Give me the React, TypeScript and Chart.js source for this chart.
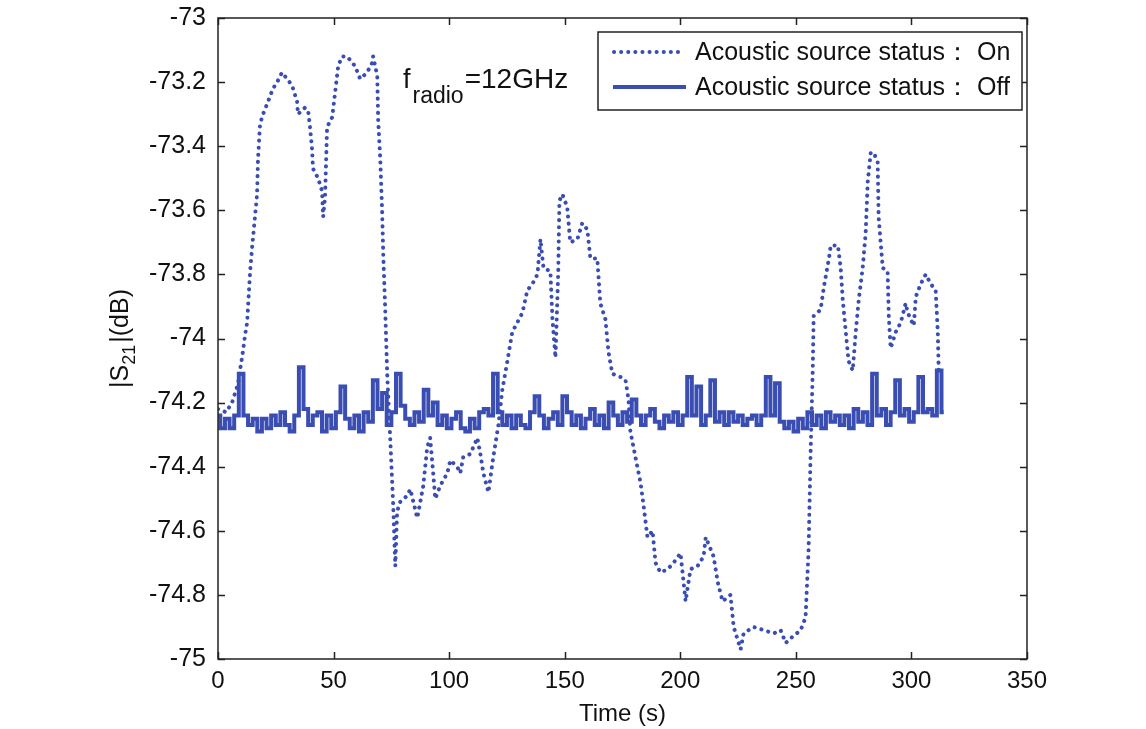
import React, { useEffect, useRef } from "react";
import { Chart, registerables } from "chart.js";
Chart.register(...registerables);

// Acoustic source ON (dotted) — time (s) and |S21| (dB)
const onTime = [
  0, 3.5, 6.1, 8.7, 9.5, 10.4, 11.7, 12.6, 13.0, 13.9, 14.7, 16.0, 16.9, 17.3, 18.2, 19.5, 21.7, 23.8, 25.6, 27.7,
  29.9, 32.0, 34.2, 34.6, 37.6, 39.0, 39.8, 40.7, 41.1, 43.3, 45.0, 45.5, 46.3, 47.2, 49.4, 50.7, 52.0, 53.7, 55.9, 59.3,
  61.5, 64.5, 66.7, 67.1, 68.9, 69.3, 70.2, 71.0, 71.5, 72.3, 73.2, 74.5, 75.8, 76.7, 77.5, 78.8, 81.9, 83.2, 86.2, 87.5,
  88.8, 90.5, 91.8, 93.1, 94.0, 96.1, 99.2, 100.5, 103.5, 104.8, 106.1, 109.2, 112.2, 113.5, 114.8, 117.0, 119.1, 121.3, 123.0, 125.2,
  127.3, 129.5, 131.7, 133.8, 136.0, 138.2, 139.5, 140.8, 143.8, 144.7, 146.0, 147.2, 147.7, 149.0, 151.1, 152.4, 155.5, 157.6, 159.8, 161.1,
  164.1, 165.4, 167.6, 168.9, 170.6, 174.1, 176.3, 177.6, 178.4, 180.6, 182.8, 184.1, 185.8, 188.0, 189.3, 191.4, 194.5, 197.1, 200.1, 202.3,
  204.4, 207.5, 210.1, 211.0, 214.4, 216.2, 218.3, 221.7, 223.1, 226.1, 227.4, 231.7, 236.1, 240.4, 243.4, 245.6, 248.6, 252.1, 254.2, 255.5,
  256.4, 257.3, 257.7, 260.7, 262.1, 264.3, 265.1, 268.2, 269.4, 270.3, 271.6, 272.8, 274.6, 275.9, 277.2, 278.9, 280.2, 281.1, 282.4, 283.7,
  285.4, 285.8, 287.6, 289.7, 290.2, 291.0, 293.2, 295.4, 297.5, 298.4, 301.0, 301.9, 304.0, 306.2, 308.4, 310.5, 311.4, 311.8,
];
const onValue = [
  -74.22, -74.23, -74.2, -74.14, -74.1, -74.06, -73.99, -73.95, -73.9, -73.79, -73.72, -73.62, -73.55, -73.44, -73.33, -73.3, -73.26, -73.22, -73.2, -73.17,
  -73.19, -73.21, -73.26, -73.3, -73.28, -73.29, -73.34, -73.41, -73.47, -73.5, -73.54, -73.62, -73.56, -73.34, -73.31, -73.23, -73.15, -73.12, -73.12, -73.15,
  -73.19, -73.17, -73.14, -73.12, -73.18, -73.32, -73.44, -73.6, -73.74, -73.9, -74.11, -74.31, -74.52, -74.71, -74.54, -74.51, -74.49, -74.47, -74.56, -74.51,
  -74.46, -74.34, -74.31, -74.42, -74.5, -74.46, -74.42, -74.38, -74.4, -74.42, -74.37, -74.36, -74.31, -74.36, -74.42, -74.48, -74.37, -74.27, -74.16, -74.07,
  -73.98, -73.95, -73.92, -73.85, -73.83, -73.8, -73.69, -73.78, -73.79, -73.94, -74.06, -73.79, -73.57, -73.55, -73.59, -73.7, -73.69, -73.64, -73.66, -73.75,
  -73.75, -73.89, -73.94, -74.04, -74.11, -74.12, -74.13, -74.19, -74.29, -74.37, -74.45, -74.52, -74.62, -74.6, -74.7, -74.73, -74.72, -74.7, -74.67, -74.82,
  -74.72, -74.71, -74.68, -74.62, -74.68, -74.76, -74.82, -74.8, -74.9, -74.97, -74.92, -74.9, -74.91, -74.92, -74.91, -74.95, -74.93, -74.91, -74.87, -74.66,
  -74.35, -74.1, -73.93, -73.91, -73.84, -73.75, -73.71, -73.71, -73.78, -73.88, -73.98, -74.07, -74.1, -73.98, -73.88, -73.78, -73.67, -73.51, -73.42, -73.42,
  -73.45, -73.62, -73.78, -73.79, -73.93, -74.03, -73.98, -73.95, -73.89, -73.92, -73.96, -73.87, -73.83, -73.8, -73.83, -73.85, -73.98, -74.1,
];

// Acoustic source OFF (solid) — sampled every 2 s from 0 s
const OFF_STEP = 2;
const offValue = [
  -74.24, -74.28, -74.25, -74.28, -74.24, -74.11, -74.24, -74.27, -74.25, -74.29,
  -74.25, -74.28, -74.24, -74.27, -74.23, -74.27, -74.29, -74.24, -74.09, -74.22,
  -74.27, -74.24, -74.23, -74.29, -74.24, -74.28, -74.23, -74.15, -74.25, -74.28,
  -74.24, -74.29, -74.23, -74.26, -74.13, -74.22, -74.17, -74.27, -74.23, -74.11,
  -74.21, -74.25, -74.27, -74.23, -74.26, -74.16, -74.24, -74.2, -74.27, -74.24,
  -74.28, -74.25, -74.23, -74.28, -74.29, -74.25, -74.28, -74.23, -74.22, -74.24,
  -74.11, -74.23, -74.27, -74.24, -74.28, -74.24, -74.27, -74.28, -74.23, -74.18,
  -74.24, -74.28, -74.25, -74.23, -74.27, -74.18, -74.23, -74.27, -74.24, -74.28,
  -74.25, -74.22, -74.27, -74.24, -74.28, -74.2, -74.24, -74.27, -74.23, -74.26,
  -74.19, -74.24, -74.27, -74.24, -74.22, -74.26, -74.28, -74.24, -74.26, -74.23,
  -74.27, -74.24, -74.12, -74.24, -74.15, -74.27, -74.24, -74.13, -74.26, -74.23,
  -74.27, -74.23, -74.26, -74.24, -74.27, -74.25, -74.24, -74.27, -74.24, -74.12,
  -74.24, -74.14, -74.26, -74.28, -74.26, -74.29, -74.25, -74.28, -74.23, -74.27,
  -74.24, -74.28, -74.23, -74.26, -74.24, -74.27, -74.24, -74.28, -74.22, -74.26,
  -74.23, -74.27, -74.11, -74.24, -74.22, -74.27, -74.23, -74.13, -74.24, -74.22,
  -74.26, -74.23, -74.12, -74.23, -74.22, -74.24, -74.1, -74.23,
];

const xTicks = [0, 50, 100, 150, 200, 250, 300, 350];
const yTicks = [-75, -74.8, -74.6, -74.4, -74.2, -74, -73.8, -73.6, -73.4, -73.2, -73];

const legendLabels = ["Acoustic source status\uFF1A On", "Acoustic source status\uFF1A Off"];
const BLUE = "#3a4db3";
const FONT = '"Liberation Sans", Arial, sans-serif';

const decorPlugin = {
  id: "decor",
  afterDraw(chart: any) {
    const { ctx, chartArea: a, scales } = chart;
    const xs = scales.x, ys = scales.y;
    ctx.save();
    // frame
    ctx.strokeStyle = "#222";
    ctx.lineWidth = 1.5;
    ctx.strokeRect(a.left, a.top, a.right - a.left, a.bottom - a.top);
    // inward ticks
    const tl = 7;
    ctx.beginPath();
    xTicks.forEach((v) => {
      const px = Math.round(xs.getPixelForValue(v)) + 0.5;
      ctx.moveTo(px, a.bottom); ctx.lineTo(px, a.bottom - tl);
      ctx.moveTo(px, a.top); ctx.lineTo(px, a.top + tl);
    });
    yTicks.forEach((v) => {
      const py = Math.round(ys.getPixelForValue(v)) + 0.5;
      ctx.moveTo(a.left, py); ctx.lineTo(a.left + tl, py);
      ctx.moveTo(a.right, py); ctx.lineTo(a.right - tl, py);
    });
    ctx.stroke();

    // annotation f_radio = 12GHz
    ctx.fillStyle = "#111";
    ctx.textBaseline = "alphabetic";
    ctx.textAlign = "left";
    ctx.font = `27px ${FONT}`;
    let x = 403;
    ctx.fillText("f", x, 88);
    x += ctx.measureText("f").width + 2;
    ctx.font = `23px ${FONT}`;
    ctx.fillText("radio", x, 103);
    x += ctx.measureText("radio").width + 1;
    ctx.font = `28px ${FONT}`;
    ctx.fillText("=12GHz", x, 88);

    // legend box
    ctx.fillStyle = "#fff";
    ctx.fillRect(598, 32, 424, 78);
    ctx.strokeStyle = "#222";
    ctx.lineWidth = 1.5;
    ctx.strokeRect(598, 32, 424, 78);
    ctx.strokeStyle = BLUE;
    ctx.lineWidth = 4;
    ctx.lineCap = "round";
    ctx.setLineDash([0.1, 7]);
    ctx.beginPath(); ctx.moveTo(614, 52); ctx.lineTo(685, 52); ctx.stroke();
    ctx.setLineDash([]);
    ctx.lineCap = "butt";
    ctx.beginPath(); ctx.moveTo(613, 87); ctx.lineTo(686, 87); ctx.stroke();
    ctx.fillStyle = "#111";
    ctx.font = `25px ${FONT}`;
    ctx.textBaseline = "middle";
    ctx.fillText(legendLabels[0], 695, 53);
    ctx.fillText(legendLabels[1], 695, 88);

    // y-axis title |S21|(dB)
    ctx.save();
    ctx.translate(128, (a.top + a.bottom) / 2);
    ctx.rotate(-Math.PI / 2);
    ctx.textBaseline = "alphabetic";
    const main = `25px ${FONT}`, sub = `18px ${FONT}`;
    ctx.font = main; const w1 = ctx.measureText("|S").width;
    ctx.font = sub; const w2 = ctx.measureText("21").width;
    ctx.font = main; const w3 = ctx.measureText("|(dB)").width;
    let tx = -(w1 + w2 + w3 + 2) / 2;
    ctx.font = main; ctx.fillText("|S", tx, 0); tx += w1;
    ctx.font = sub; ctx.fillText("21", tx, 7); tx += w2 + 2;
    ctx.font = main; ctx.fillText("|(dB)", tx, 0);
    ctx.restore();

    // x-axis title
    ctx.font = `24px ${FONT}`;
    ctx.textAlign = "center";
    ctx.textBaseline = "alphabetic";
    ctx.fillText("Time (s)", (a.left + a.right) / 2, 721);
    ctx.restore();
  },
};

export default function App() {
  const ref = useRef<HTMLCanvasElement>(null);
  useEffect(() => {
    const canvas = ref.current!;
    const chart = new Chart(canvas, {
      type: "scatter",
      data: {
        datasets: [
          {
            label: legendLabels[0],
            data: onTime.map((t, i) => ({ x: t, y: onValue[i] })),
            showLine: true,
            borderColor: BLUE,
            backgroundColor: BLUE,
            borderWidth: 4,
            borderDash: [0.1, 7],
            borderCapStyle: "round",
            borderJoinStyle: "round",
            pointRadius: 0,
            tension: 0,
          },
          {
            label: legendLabels[1],
            data: offValue.map((v, i) => ({ x: i * OFF_STEP, y: v })),
            showLine: true,
            stepped: "middle",
            borderColor: BLUE,
            backgroundColor: BLUE,
            borderWidth: 4,
            pointRadius: 0,
          },
        ],
      } as any,
      options: {
        animation: false,
        responsive: false,
        layout: { padding: { top: 18, right: 119, left: 0, bottom: 0 } },
        plugins: { legend: { display: false }, tooltip: { enabled: false } },
        scales: {
          x: {
            type: "linear",
            min: 0,
            max: 350,
            afterBuildTicks: (s: any) => { s.ticks = xTicks.map((v) => ({ value: v })); },
            afterFit: (s: any) => { s.height = 70; s.paddingLeft = 0; s.paddingRight = 0; },
            grid: { display: false, drawTicks: false },
            border: { display: false },
            ticks: { color: "#111", padding: 8, maxRotation: 0, font: { family: FONT, size: 24 } },
          },
          y: {
            type: "linear",
            min: -75,
            max: -73,
            afterBuildTicks: (s: any) => { s.ticks = yTicks.map((v) => ({ value: v })); },
            afterFit: (s: any) => { s.width = 218; s.paddingTop = 0; s.paddingBottom = 0; },
            grid: { display: false, drawTicks: false },
            border: { display: false },
            ticks: {
              color: "#111",
              padding: 12,
              font: { family: FONT, size: 25 },
              callback: (v: any) => String(Number(Number(v).toFixed(1))),
            },
          },
        },
      } as any,
      plugins: [decorPlugin],
    });
    return () => chart.destroy();
  }, []);
  return (
    <div style={{ position: "fixed", left: 0, top: 0, width: 1146, height: 729, background: "#fff" }}>
      <canvas ref={ref} width={1146} height={729} style={{ display: "block" }} />
    </div>
  );
}
